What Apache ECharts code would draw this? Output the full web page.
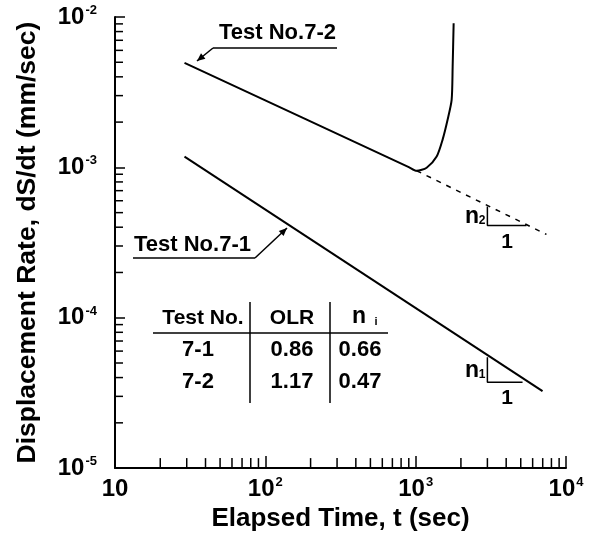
<!DOCTYPE html>
<html>
<head>
<meta charset="utf-8">
<script src="https://cdn.jsdelivr.net/npm/echarts@6/dist/echarts.min.js"></script>
<style>html,body{margin:0;padding:0;background:#fff}#c{width:594px;height:537px}</style>
</head>
<body>
<div id="c"></div>
<script>
// ---- data ----
const xTicks = [10, 100, 1000, 10000];
const yTicks = [1e-5, 1e-4, 1e-3, 1e-2];
const xMinorTicks = [20,30,40,50,60,70,80,90,200,300,400,500,600,700,800,900,2000,3000,4000,5000,6000,7000,8000,9000];
const yMinorTicks = [2e-5,3e-5,4e-5,5e-5,6e-5,7e-5,8e-5,9e-5,2e-4,3e-4,4e-4,5e-4,6e-4,7e-4,8e-4,9e-4,2e-3,3e-3,4e-3,5e-3,6e-3,7e-3,8e-3,9e-3];
// Test No.7-2 (elapsed time s, rate mm/s)
const test72Time = [29, 900, 1015, 1183, 1379, 1511, 1632, 1735, 1762, 1789];
const test72Rate = [4.95e-3, 1.005e-3, 9.5e-4, 9.95e-4, 1.18e-3, 1.53e-3, 2.08e-3, 2.81e-3, 4.66e-3, 9.1e-3];
// extrapolated (dashed) part of 7-2
const test72ExtTime = [1015, 7413];
const test72ExtRate = [9.5e-4, 3.58e-4];
// Test No.7-1
const test71Time = [29, 6980];
const test71Rate = [1.18e-3, 3.25e-5];
// slope triangles
const tri2Time = [3000, 3000, 5460];
const tri2Rate = [5.5e-4, 4.1e-4, 4.1e-4];
const tri1Time = [3000, 3000, 5140];
const tri1Rate = [5.46e-5, 3.73e-5, 3.73e-5];
// table
const tableHeader = ['Test No.', 'OLR', 'n'];
const tableTests = ['7-1', '7-2'];
const tableOLR = ['0.86', '1.17'];
const tableN = ['0.66', '0.47'];

const zip = (a, b) => a.map((v, i) => [v, b[i]]);
const FONT = '"Liberation Sans", Arial, Helvetica, sans-serif';
const INK = '#000';

function supLabel(v) {
  const e = Math.round(Math.log10(v));
  if (e === 1) return '{b|10}';
  return '{b|10}{s|' + e + '}';
}
const labelRich = {
  b: { fontFamily: FONT, fontWeight: 'bold', fontSize: 24, color: INK, lineHeight: 26 },
  s: { fontFamily: FONT, fontWeight: 'bold', fontSize: 13, color: INK, verticalAlign: 'top', lineHeight: 13, padding: [0, 0, 10, 1] }
};

const chart = echarts.init(document.getElementById('c'), null, { renderer: 'canvas' });

const option = {
  backgroundColor: '#fff',
  animation: false,
  grid: { left: 115, right: 28, top: 17, bottom: 68, containLabel: false },
  xAxis: {
    type: 'log', logBase: 10, min: 10, max: 10000,
    name: 'Elapsed Time, t (sec)', nameLocation: 'middle', nameGap: 36,
    nameTextStyle: { fontFamily: FONT, fontWeight: 'bold', fontSize: 26, color: INK },
    axisLine: { lineStyle: { color: INK, width: 2 } },
    axisTick: { inside: true, length: 12, lineStyle: { color: INK, width: 1.5 } },
    axisLabel: { margin: 8, formatter: supLabel, rich: labelRich },
    splitLine: { show: false }
  },
  yAxis: {
    type: 'log', logBase: 10, min: 1e-5, max: 1e-2,
    name: 'Displacement Rate, dS/dt (mm/sec)', nameLocation: 'middle', nameGap: 74,
    nameTextStyle: { fontFamily: FONT, fontWeight: 'bold', fontSize: 26.5, color: INK },
    axisLine: { lineStyle: { color: INK, width: 2 } },
    axisTick: { inside: true, length: 10, lineStyle: { color: INK, width: 1.5 } },
    axisLabel: { margin: 18, formatter: supLabel, rich: labelRich },
    splitLine: { show: false }
  },
  series: [
    {
      type: 'line', data: zip(test72Time, test72Rate), smooth: 0.25, symbol: 'none',
      lineStyle: { color: INK, width: 2 }
    },
    {
      type: 'line', data: zip(test72ExtTime, test72ExtRate), symbol: 'none',
      lineStyle: { color: INK, width: 1.5, type: [5, 6] }
    },
    {
      type: 'line', data: zip(test71Time, test71Rate), symbol: 'none',
      lineStyle: { color: INK, width: 2 }
    },
    {
      type: 'line', data: zip(tri2Time, tri2Rate), symbol: 'none',
      lineStyle: { color: INK, width: 1.5 }
    },
    {
      type: 'line', data: zip(tri1Time, tri1Rate), symbol: 'none',
      lineStyle: { color: INK, width: 1.5 }
    },
    {
      type: 'custom', clip: false, silent: true,
      data: xMinorTicks.map(v => [v, 1e-5]),
      renderItem: function (params, api) {
        const p = api.coord([api.value(0), api.value(1)]);
        return { type: 'line', shape: { x1: p[0], y1: p[1], x2: p[0], y2: p[1] - 10 }, style: { stroke: INK, lineWidth: 1.5 } };
      }
    },
    {
      type: 'custom', clip: false, silent: true,
      data: yMinorTicks.map(v => [10, v]),
      renderItem: function (params, api) {
        const p = api.coord([api.value(0), api.value(1)]);
        return { type: 'line', shape: { x1: p[0], y1: p[1], x2: p[0] + 8, y2: p[1] }, style: { stroke: INK, lineWidth: 1.5 } };
      }
    }
  ],
  graphic: []
};
chart.setOption(option);

// ---- annotations ----
const g = [];
function txt(x, y, s, size, align) {
  g.push({ type: 'text', x: x, y: y, silent: true, style: { text: s, fill: INK, font: 'bold ' + size + 'px ' + FONT, textAlign: align || 'center', textVerticalAlign: 'middle' } });
}
function ln(pts, w) {
  g.push({ type: 'polyline', silent: true, shape: { points: pts }, style: { stroke: INK, lineWidth: w || 1.5, fill: null } });
}
function arrow(from, to) {
  ln([from, to], 1.5);
  const dx = to[0] - from[0], dy = to[1] - from[1];
  const L = Math.hypot(dx, dy), ux = dx / L, uy = dy / L;
  const s = 8, w = 3.5;
  const bx = to[0] - ux * s, by = to[1] - uy * s;
  g.push({ type: 'polygon', silent: true, shape: { points: [to, [bx - uy * w, by + ux * w], [bx + uy * w, by - ux * w]] }, style: { fill: INK } });
}
// Test No.7-2 label
txt(219, 33, 'Test No.7-2', 22, 'left');
ln([[337, 48], [213, 48]], 1.5);
arrow([213, 48], [197, 61]);
// Test No.7-1 label
txt(134, 245, 'Test No.7-1', 22, 'left');
ln([[133, 258], [255, 258]], 1.5);
arrow([255, 258], [287, 228]);
// table
ln([[153, 333], [388, 333]], 1.5);
ln([[250, 302], [250, 403]], 1.5);
ln([[330, 302], [330, 403]], 1.5);
txt(203, 318, tableHeader[0], 21);
txt(292, 318, tableHeader[1], 21);
txt(359, 317, tableHeader[2], 23);
txt(376, 322, 'i', 11);
tableTests.forEach((t, i) => {
  const y = 350 + i * 32;
  txt(198, y, t, 22);
  txt(292, y, tableOLR[i], 22);
  txt(360, y, tableN[i], 22);
});
// slope labels
txt(472, 217, 'n', 23);
txt(482, 221, '2', 12);
txt(507, 242, '1', 21);
txt(472, 371, 'n', 23);
txt(482, 375, '1', 12);
txt(507, 398, '1', 21);

chart.setOption({ graphic: g });
</script>
</body>
</html>
